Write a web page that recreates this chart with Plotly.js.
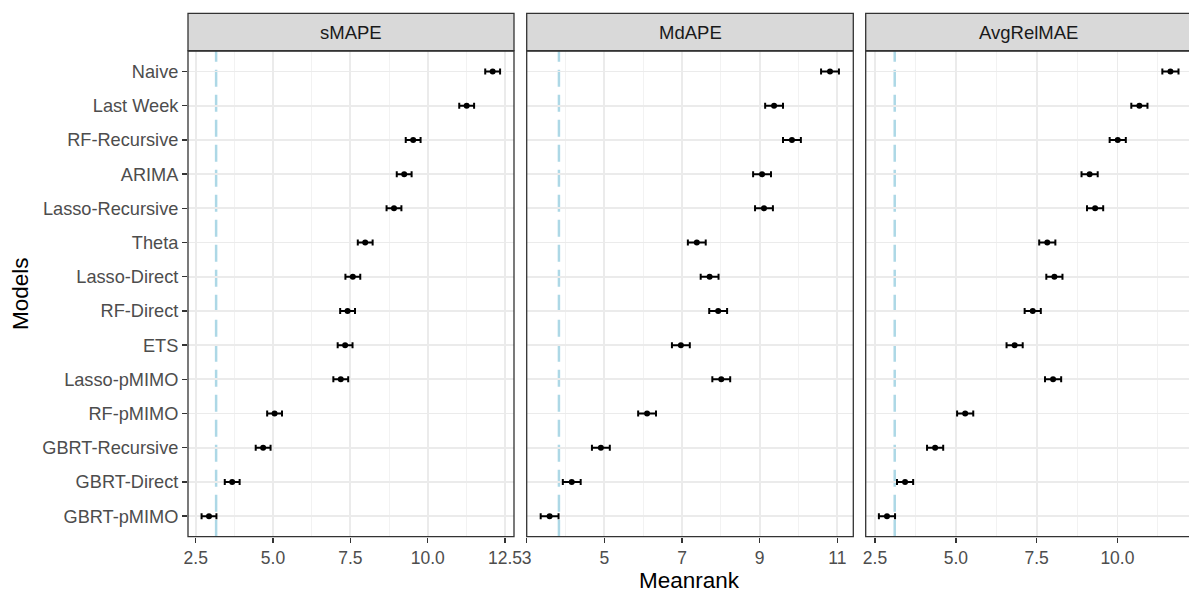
<!DOCTYPE html>
<html>
<head>
<meta charset="utf-8">
<script src="https://cdn.plot.ly/plotly-3.0.1.min.js"></script>
<style>html,body{margin:0;padding:0;background:#fff;}#chart{width:1189px;height:592px;}</style>
</head>
<body>
<div id="chart"></div>
<script>
// Models, top to bottom as shown
const models = ["Naive","Last Week","RF-Recursive","ARIMA","Lasso-Recursive","Theta","Lasso-Direct","RF-Direct","ETS","Lasso-pMIMO","RF-pMIMO","GBRT-Recursive","GBRT-Direct","GBRT-pMIMO"];
const panels = ["sMAPE","MdAPE","AvgRelMAE"];
const smape     = [12.10,11.26,9.53,9.24,8.91,7.98,7.58,7.41,7.33,7.19,5.05,4.68,3.68,2.93];
const mdape     = [10.81,9.37,9.83,9.06,9.11,7.38,7.71,7.93,6.97,8.01,6.10,4.91,4.16,3.59];
const avgrelmae = [11.64,10.68,10.01,9.14,9.31,7.83,8.05,7.38,6.82,8.01,5.29,4.36,3.43,2.87];
// half-widths of the intervals per panel
const halfWidth = [0.24,0.23,0.25];
// reference (dashed) lines per panel
const refLines = [3.16,3.83,3.11];

const series = [smape, mdape, avgrelmae];
const xaxes = ['x','x2','x3'];
const traces = series.map((vals,i)=>({
  type:'scatter', mode:'markers',
  x: vals, y: models,
  xaxis: xaxes[i], yaxis:'y',
  marker:{color:'#000000', size:6},
  error_x:{type:'data', array: vals.map(()=>halfWidth[i]), color:'#000000', thickness:2, width:3},
  hoverinfo:'x+y', showlegend:false
}));

const W=1189, H=592;
const px = v=>v/W, py = v=>(H-v)/H;
const domX = [[px(188),px(514)],[px(526.7),px(853.3)],[px(865.7),1]];
const domY = [py(536.7), py(51)];
const ranges = [[2.251,12.79],[3.0,11.41],[2.212,12.215]];
const tickSets = [[2.5,5,7.5,10,12.5],[3,5,7,9,11],[2.5,5,7.5,10]];
const tickText = [["2.5","5.0","7.5","10.0","12.5"],["3","5","7","9","11"],["2.5","5.0","7.5","10.0"]];
const minorD = [1.25,1,1.25];
const minorT0 = [2.5,3,2.5];

const font = 'Liberation Sans, Arial, sans-serif';
const layout = {
  width:W, height:H,
  margin:{l:0,r:0,t:0,b:0},
  paper_bgcolor:'#ffffff', plot_bgcolor:'#ffffff',
  font:{family:font, color:'#4D4D4D'},
  yaxis:{
    type:'category', categoryorder:'array', categoryarray: models.slice().reverse(),
    range:[-0.6, 13.6], domain: domY, anchor:'x',
    showgrid:true, gridcolor:'#EBEBEB', gridwidth:1.8,
    ticks:'outside', ticklen:5, tickwidth:1.4, tickcolor:'#333333',
    tickfont:{size:18.2, color:'#4D4D4D', family:font},
    showline:false, zeroline:false, automargin:false
  },
  shapes:[], annotations:[]
};
for(let i=0;i<3;i++){
  const key = i===0?'xaxis':'xaxis'+(i+1);
  layout[key] = {
    domain: domX[i], anchor:'y', range: ranges[i],
    tickmode:'array', tickvals: tickSets[i], ticktext: tickText[i],
    showgrid:true, gridcolor:'#EBEBEB', gridwidth:1.8,
    minor:{tick0:minorT0[i], dtick:minorD[i], showgrid:true, gridcolor:'#F2F2F2', gridwidth:1, ticks:''},
    ticks:'outside', ticklen:5, tickwidth:1.4, tickcolor:'#333333',
    tickfont:{size:17.5, color:'#4D4D4D', family:font},
    showline:false, zeroline:false, automargin:false
  };
  // panel border
  const x0 = domX[i][0]*W, x1 = (i===2? 1191.5 : domX[i][1]*W);
  layout.shapes.push({type:'rect', xref:'paper', yref:'paper', x0:x0/W, x1:x1/W, y0:domY[0], y1:domY[1],
    line:{color:'#333333', width:1.3}, fillcolor:'rgba(0,0,0,0)', layer:'above'});
  // strip
  layout.shapes.push({type:'rect', xref:'paper', yref:'paper', x0:x0/W, x1:x1/W, y0:py(50.7), y1:py(13.3),
    line:{color:'#333333', width:1.3}, fillcolor:'#D9D9D9', layer:'above'});
  layout.annotations.push({xref:'paper', yref:'paper', x:(x0+x1)/2/W, y:py(32), text:panels[i], showarrow:false,
    xanchor:'center', yanchor:'middle', font:{size:18.5, color:'#1A1A1A', family:font}});
  // reference dashed line
  layout.shapes.push({type:'line', xref:xaxes[i], yref:'y domain', x0:refLines[i], x1:refLines[i], y0:0, y1:1,
    line:{color:'#ADD8E6', width:2.5, dash:'17px,8px'}, layer:'below'});
}
layout.annotations.push({xref:'paper', yref:'paper', x:689.5/W, y:py(580), text:'Meanrank', showarrow:false,
  xanchor:'center', yanchor:'middle', font:{size:22.5, color:'#000000', family:font}});
layout.annotations.push({xref:'paper', yref:'paper', x:20/W, y:py(294), text:'Models', showarrow:false, textangle:-90,
  xanchor:'center', yanchor:'middle', font:{size:22.5, color:'#000000', family:font}});

Plotly.newPlot('chart', traces, layout, {displayModeBar:false, staticPlot:true});
</script>
</body>
</html>
